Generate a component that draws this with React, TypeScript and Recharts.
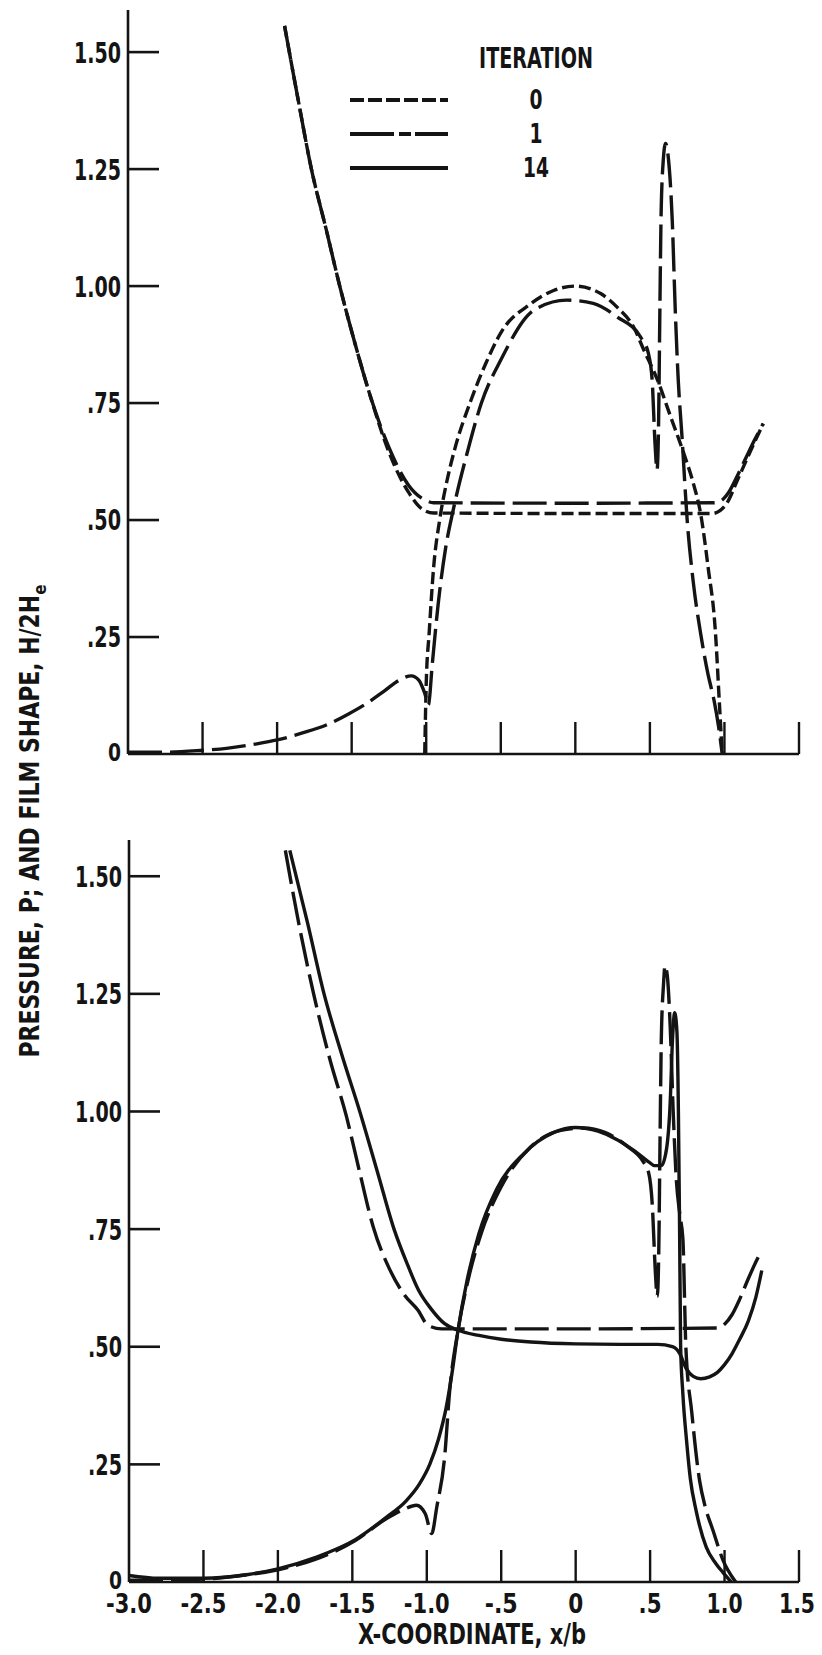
import { LineChart, Line, XAxis, YAxis } from 'recharts';

// x positions (x/b) and tick labels shared by both panels
const xTicks = [-3, -2.5, -2, -1.5, -1, -0.5, 0, 0.5, 1, 1.5];
const xTickLabels = ['-3.0', '-2.5', '-2.0', '-1.5', '-1.0', '-.5', '0', '.5', '1.0', '1.5'];
const yTicks = [0, 0.25, 0.5, 0.75, 1, 1.25, 1.5];
const yTickLabels = ['0', '.25', '.50', '.75', '1.00', '1.25', '1.50'];

// ---- upper panel: iterations 0 and 1 ----
const film0X = [-1.95, -1.86, -1.77, -1.67, -1.58, -1.48, -1.38, -1.25, -1.12, -1.03, -0.95, 0, 0.92, 0.97, 1.02, 1.08, 1.15, 1.2, 1.26];
const film0Y = [1.556, 1.4, 1.25, 1.12, 1.0, 0.88, 0.77, 0.645, 0.56, 0.524, 0.515, 0.514, 0.514, 0.52, 0.538, 0.58, 0.63, 0.665, 0.706];

const film1X = [-1.95, -1.86, -1.77, -1.67, -1.58, -1.48, -1.38, -1.25, -1.12, -1.01, -0.95, 0, 0.93, 0.98, 1.03, 1.09, 1.15, 1.2, 1.26];
const film1Y = [1.556, 1.4, 1.25, 1.12, 1.0, 0.88, 0.77, 0.655, 0.575, 0.543, 0.537, 0.536, 0.537, 0.542, 0.56, 0.597, 0.637, 0.67, 0.706];

const press0X = [-1.01, -1.0, -0.98, -0.95, -0.91, -0.86, -0.81, -0.7, -0.6, -0.5, -0.3, -0.15, 0, 0.17, 0.28, 0.39, 0.46, 0.55, 0.64, 0.73, 0.79, 0.84, 0.89, 0.94, 0.965, 0.985];
const press0Y = [0, 0.15, 0.26, 0.4, 0.5, 0.585, 0.65, 0.756, 0.835, 0.9, 0.962, 0.99, 1.0, 0.984, 0.955, 0.913, 0.863, 0.8, 0.72, 0.64, 0.58, 0.514, 0.4, 0.258, 0.115, 0];

const press1X = [-3.0, -2.75, -2.5, -2.34, -2.15, -2.0, -1.83, -1.67, -1.53, -1.4, -1.28, -1.18, -1.1, -1.05, -1.01, -0.985, -0.96, -0.92, -0.87, -0.82, -0.72, -0.63, -0.5, -0.28, -0.06, 0.12, 0.28, 0.44, 0.49, 0.515, 0.535, 0.548, 0.558, 0.567, 0.575, 0.59, 0.605, 0.625, 0.65, 0.67, 0.69, 0.715, 0.75, 0.79, 0.84, 0.89, 0.93, 0.96, 0.985];
const press1Y = [0.004, 0.004, 0.008, 0.012, 0.021, 0.03, 0.045, 0.062, 0.084, 0.108, 0.135, 0.158, 0.167, 0.158, 0.13, 0.105, 0.19, 0.32, 0.44, 0.52, 0.65, 0.75, 0.842, 0.948, 0.97, 0.963, 0.934, 0.89, 0.856, 0.8, 0.66, 0.607, 0.7, 0.95, 1.15, 1.27, 1.305, 1.27, 1.14, 0.95, 0.8, 0.68, 0.5, 0.37, 0.258, 0.17, 0.115, 0.06, 0];

// ---- lower panel: iterations 1 and 14 ----
const filmB1X = [-1.95, -1.86, -1.76, -1.65, -1.54, -1.45, -1.36, -1.25, -1.15, -1.06, -0.99, -0.9, 0, 0.95, 1.0, 1.05, 1.1, 1.16, 1.21, 1.25];
const filmB1Y = [1.555, 1.4, 1.25, 1.11, 0.99, 0.87, 0.755, 0.665, 0.61, 0.578, 0.545, 0.538, 0.538, 0.54, 0.548, 0.568, 0.6, 0.645, 0.68, 0.705];

const film14X = [-1.92, -1.8, -1.69, -1.57, -1.45, -1.33, -1.22, -1.13, -1.055, -0.97, -0.88, -0.79, -0.65, -0.5, -0.3, 0, 0.3, 0.55, 0.65, 0.7, 0.74, 0.79, 0.84, 0.9, 0.95, 1.0, 1.05, 1.1, 1.16, 1.21, 1.25];
const film14Y = [1.555, 1.4, 1.25, 1.12, 1.0, 0.87, 0.75, 0.675, 0.62, 0.58, 0.549, 0.535, 0.524, 0.516, 0.51, 0.506, 0.505, 0.505, 0.5, 0.485, 0.455, 0.437, 0.432, 0.436, 0.445, 0.462, 0.485, 0.515, 0.555, 0.605, 0.662];

const pressB1X = [-3.0, -2.75, -2.5, -2.3, -2.0, -1.75, -1.48, -1.27, -1.15, -1.07, -1.01, -0.967, -0.933, -0.88, -0.846, -0.79, -0.72, -0.63, -0.5, -0.3, -0.1, 0.05, 0.2, 0.35, 0.45, 0.49, 0.515, 0.535, 0.548, 0.558, 0.567, 0.575, 0.59, 0.6, 0.615, 0.635, 0.655, 0.675, 0.7, 0.72, 0.74, 0.78, 0.832, 0.87, 0.922, 0.99, 1.075];
const pressB1Y = [0.004, 0.004, 0.006, 0.012, 0.026, 0.048, 0.088, 0.135, 0.155, 0.163, 0.145, 0.103, 0.159, 0.266, 0.407, 0.535, 0.645, 0.745, 0.84, 0.925, 0.96, 0.965, 0.955, 0.925, 0.895, 0.87, 0.8, 0.66, 0.607, 0.7, 0.95, 1.15, 1.27, 1.31, 1.29, 1.18, 1.0, 0.86, 0.78, 0.73, 0.5, 0.36, 0.216, 0.16, 0.11, 0.046, 0];

const press14X = [-3.0, -2.8, -2.5, -2.2, -2.0, -1.75, -1.48, -1.27, -1.14, -1.05, -0.98, -0.92, -0.87, -0.83, -0.79, -0.73, -0.65, -0.53, -0.35, -0.15, 0, 0.15, 0.285, 0.4, 0.49, 0.53, 0.575, 0.61, 0.635, 0.65, 0.665, 0.68, 0.69, 0.698, 0.705, 0.72, 0.745, 0.77, 0.81, 0.877, 0.94, 0.99, 1.045];
const press14Y = [0.014, 0.008, 0.008, 0.016, 0.028, 0.052, 0.09, 0.138, 0.172, 0.208, 0.25, 0.305, 0.37, 0.445, 0.535, 0.64, 0.74, 0.835, 0.91, 0.955, 0.966, 0.958, 0.939, 0.915, 0.893, 0.885, 0.885, 0.92, 1.02, 1.15, 1.21, 1.17, 1.0, 0.75, 0.5, 0.4, 0.3, 0.22, 0.15, 0.074, 0.04, 0.02, 0];

const INK = '#141414';
const FONT = "'DejaVu Sans', 'Liberation Sans', sans-serif";

// iteration -> dash pattern
const DASH: Record<string, string | undefined> = {
  '0': '12 5',
  '1': '34 8',
  '14': undefined,
};

const zip = (xs: number[], ys: number[]) => xs.map((x, i) => ({ x, y: ys[i] }));

// the lettering is narrow, so each label is squeezed to a fixed advance per glyph
const labelWidth = (s: string) =>
  s.split('').reduce((w, ch) => w + (ch === '.' ? 8 : ch === '-' ? 10 : 13), 0);

function YTick(props: any) {
  const { x, y, payload } = props;
  const label = yTickLabels[yTicks.indexOf(payload.value)];
  const isZero = payload.value === 0;
  return (
    <g>
      {!isZero && (
        <line x1={x} x2={x + 31} y1={y} y2={y} stroke={INK} strokeWidth={2.6} />
      )}
      <text
        x={x - 7}
        y={isZero ? y - 2 : y}
        dy="0.36em"
        textAnchor="end"
        fontFamily={FONT}
        fontWeight="bold"
        fontSize={isZero ? 25 : 29}
        textLength={labelWidth(label)}
        lengthAdjust="spacingAndGlyphs"
        fill={INK}
      >
        {label}
      </text>
    </g>
  );
}

function makeXTick(showLabel: boolean) {
  return function XTick(props: any) {
    const { x, y, payload } = props;
    const label = xTickLabels[xTicks.indexOf(payload.value)];
    return (
      <g>
        {payload.value !== -3 && (
          <line x1={x} x2={x} y1={y} y2={y - 32} stroke={INK} strokeWidth={2.4} />
        )}
        {showLabel && (
          <text
            x={payload.value === 1.5 ? x - 2 : x}
            y={y + 22}
            dy="0.36em"
            textAnchor="middle"
            fontFamily={FONT}
            fontWeight="bold"
            fontSize={26}
            textLength={labelWidth(label) + 2}
            lengthAdjust="spacingAndGlyphs"
            fill={INK}
          >
            {label}
          </text>
        )}
      </g>
    );
  };
}

type Series = { key: string; iter: string; pts: { x: number; y: number }[] };

function Panel({
  height,
  margin,
  yMax,
  xAxisHeight,
  showXLabels,
  series,
}: {
  height: number;
  margin: { top: number; right: number; bottom: number; left: number };
  yMax: number;
  xAxisHeight: number;
  showXLabels: boolean;
  series: Series[];
}) {
  return (
    <LineChart width={822} height={height} margin={margin}>
      <XAxis
        dataKey="x"
        type="number"
        domain={[-3, 1.5]}
        ticks={xTicks}
        interval={0}
        height={xAxisHeight}
        tickSize={0}
        tickMargin={0}
        tickLine={false}
        axisLine={{ stroke: INK, strokeWidth: 2.6 }}
        tick={makeXTick(showXLabels)}
        allowDataOverflow
      />
      <YAxis
        type="number"
        domain={[0, yMax]}
        ticks={yTicks}
        interval={0}
        width={60}
        tickSize={0}
        tickMargin={0}
        tickLine={false}
        axisLine={{ stroke: INK, strokeWidth: 2.6 }}
        tick={YTick}
        allowDataOverflow
      />
      {series.map((s) => (
        <Line
          key={s.key}
          data={s.pts}
          dataKey="y"
          type="monotone"
          stroke={INK}
          strokeWidth={3.4}
          strokeDasharray={DASH[s.iter]}
          dot={false}
          activeDot={false}
          isAnimationActive={false}
        />
      ))}
    </LineChart>
  );
}

const upperSeries: Series[] = [
  { key: 'film0', iter: '0', pts: zip(film0X, film0Y) },
  { key: 'film1', iter: '1', pts: zip(film1X, film1Y) },
  { key: 'press0', iter: '0', pts: zip(press0X, press0Y) },
  { key: 'press1', iter: '1', pts: zip(press1X, press1Y) },
];

const lowerSeries: Series[] = [
  { key: 'filmB1', iter: '1', pts: zip(filmB1X, filmB1Y) },
  { key: 'film14', iter: '14', pts: zip(film14X, film14Y) },
  { key: 'pressB1', iter: '1', pts: zip(pressB1X, pressB1Y) },
  { key: 'press14', iter: '14', pts: zip(press14X, press14Y) },
];

const legendIters = ['0', '1', '14'];
const legendDash: Record<string, string | undefined> = {
  '0': '14 4',
  '1': '44 5 12 4',
  '14': undefined,
};

export default function App() {
  return (
    <div style={{ position: 'absolute', left: 0, top: 0, width: 822, height: 1655, background: '#fff' }}>
      <div style={{ position: 'absolute', left: 0, top: 0 }}>
        <Panel
          height={800}
          margin={{ top: 10, right: 23, bottom: 16, left: 68 }}
          yMax={1.59}
          xAxisHeight={30}
          showXLabels={false}
          series={upperSeries}
        />
      </div>
      <div style={{ position: 'absolute', left: 0, top: 800 }}>
        <Panel
          height={855}
          margin={{ top: 40, right: 23, bottom: 23, left: 69 }}
          yMax={1.577}
          xAxisHeight={50}
          showXLabels
          series={lowerSeries}
        />
      </div>

      {/* legend and axis titles */}
      <svg
        width={822}
        height={1655}
        style={{ position: 'absolute', left: 0, top: 0, pointerEvents: 'none' }}
      >
        <text
          x={536}
          y={58}
          dy="0.36em"
          textAnchor="middle"
          fontFamily={FONT}
          fontWeight="bold"
          fontSize={29}
          textLength={114}
          lengthAdjust="spacingAndGlyphs"
          fill={INK}
        >
          ITERATION
        </text>
        {legendIters.map((it, i) => {
          const y = 100 + i * 34;
          return (
            <g key={it}>
              <line
                x1={350}
                x2={448}
                y1={y}
                y2={y}
                stroke={INK}
                strokeWidth={4}
                strokeDasharray={legendDash[it]}
              />
              <text
                x={536}
                y={y}
                dy="0.36em"
                textAnchor="middle"
                fontFamily={FONT}
                fontWeight="bold"
                fontSize={26}
                textLength={it.length * 13}
                lengthAdjust="spacingAndGlyphs"
                fill={INK}
              >
                {it}
              </text>
            </g>
          );
        })}

        <text
          x={472}
          y={1634}
          dy="0.36em"
          textAnchor="middle"
          fontFamily={FONT}
          fontWeight="bold"
          fontSize={28}
          textLength={228}
          lengthAdjust="spacingAndGlyphs"
          fill={INK}
        >
          X-COORDINATE, x/b
        </text>

        <text
          transform="translate(30 821) rotate(-90)"
          x={0}
          y={0}
          dy="0.36em"
          textAnchor="middle"
          fontFamily={FONT}
          fontWeight="bold"
          fontSize={26}
          textLength={473}
          lengthAdjust="spacingAndGlyphs"
          fill={INK}
        >
          PRESSURE, P; AND FILM SHAPE, H/2H
          <tspan fontSize={18} dy={7}>
            e
          </tspan>
        </text>
      </svg>
    </div>
  );
}
